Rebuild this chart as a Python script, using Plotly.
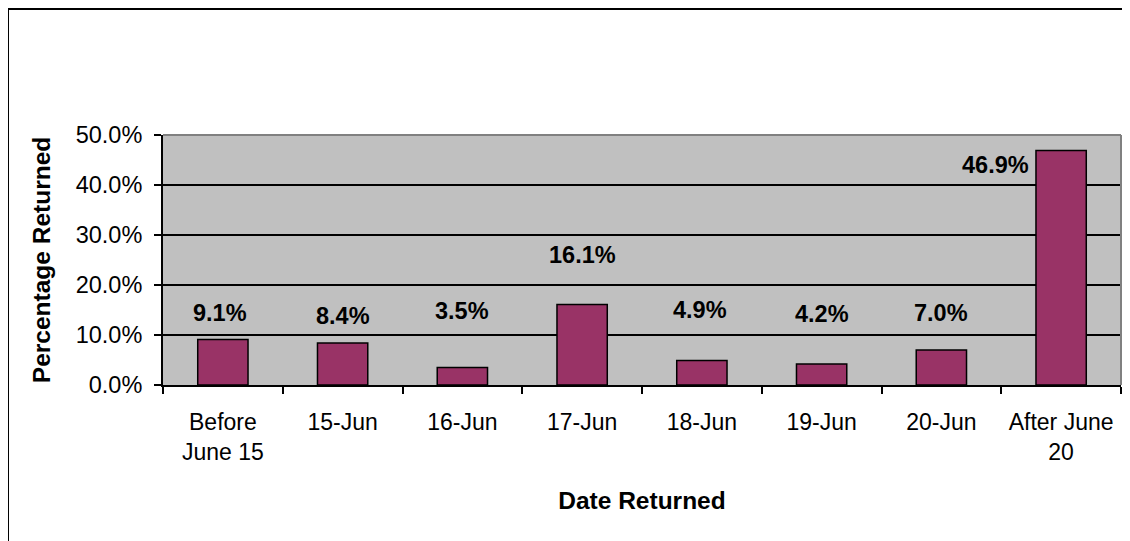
import plotly.graph_objects as go

# Share of returns by date
categories = ["Before<br>June 15", "15-Jun", "16-Jun", "17-Jun",
              "18-Jun", "19-Jun", "20-Jun", "After June<br>20"]
pct_returned = [9.1, 8.4, 3.5, 16.1, 4.9, 4.2, 7.0, 46.9]
y_ticks = [0, 10, 20, 30, 40, 50]
y_tick_text = ["0.0%", "10.0%", "20.0%", "30.0%", "40.0%", "50.0%"]

FONT = "Liberation Sans, Arial, sans-serif"

fig = go.Figure()
fig.add_trace(go.Bar(
    x=categories,
    y=pct_returned,
    marker=dict(color="#993366", line=dict(color="black", width=1.5)),
    hoverinfo="x+y",
))

# data labels, placed roughly where the original chart has them
label_y = [14.4, 13.8, 14.8, 26.0, 15.0, 14.2, 14.4, 44.0]
label_xshift = [-3, 0, 0, 0, -2, 0, 0, -66]
for cat, val, ly, dx in zip(categories, pct_returned, label_y, label_xshift):
    fig.add_annotation(
        x=cat, y=ly, text=f"{val:.1f}%", showarrow=False, xshift=dx,
        font=dict(family=FONT, size=23.5, color="black", weight="bold"),
    )

# outer chart border (cut off at right and bottom in the original)
fig.add_shape(
    type="rect", xref="paper", yref="paper",
    x0=-0.1618, x1=1.2, y0=-1.0, y1=1.504,
    line=dict(color="black", width=2), layer="above",
)

fig.update_layout(
    width=1122, height=533,
    margin=dict(l=155, r=9, t=127, b=156),
    paper_bgcolor="white",
    plot_bgcolor="#C0C0C0",
    bargap=0.58,
    showlegend=False,
    font=dict(family=FONT, size=23, color="black"),
    xaxis=dict(
        title=dict(text="Date Returned", standoff=28,
                   font=dict(family=FONT, size=24.5, weight="bold")),
        showline=True, linecolor="black", linewidth=2,
        ticks="outside", ticklen=7, tickcolor="black", tickwidth=1.5,
        tickson="boundaries", showgrid=False,
        tickfont=dict(size=23), ticklabelstandoff=15,
    ),
    yaxis=dict(
        title=dict(text="Percentage Returned", standoff=18,
                   font=dict(family=FONT, size=24.5, weight="bold")),
        range=[0, 50],
        tickvals=y_ticks, ticktext=y_tick_text,
        showline=True, linecolor="black", linewidth=2,
        ticks="outside", ticklen=7, tickcolor="black", tickwidth=1.5,
        showgrid=True, gridcolor="black", gridwidth=2,
        zeroline=False,
        tickfont=dict(size=23.5), ticklabelstandoff=7,
    ),
)

# gray frame on the top and right of the plot area
fig.add_shape(type="line", xref="paper", yref="paper", x0=0, x1=1, y0=1, y1=1,
              line=dict(color="#808080", width=2), layer="above")
fig.add_shape(type="line", xref="paper", yref="paper", x0=1, x1=1, y0=0, y1=1,
              line=dict(color="#808080", width=2), layer="above")

fig.write_html("out.html")
